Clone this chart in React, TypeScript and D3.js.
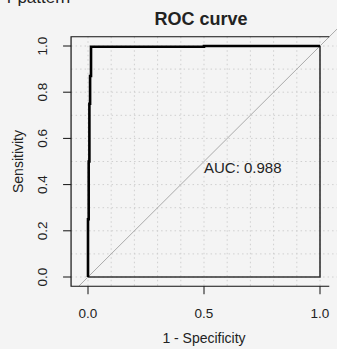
import * as d3 from "d3";

// ROC curve points (1 - specificity, sensitivity)
const fpr = [0, 0, 0.003, 0.003, 0.006, 0.006, 0.009, 0.009, 0.013, 0.013, 0.5, 0.5, 1];
const tpr = [0, 0.25, 0.25, 0.5, 0.5, 0.75, 0.75, 0.87, 0.87, 0.997, 0.997, 1, 1];
// closing segments drawn by the plot: down the right edge and back along zero
const closeX = [1, 1, 0];
const closeY = [1, 0, 0];

const gridTicks = [0, 0.1, 0.2, 0.3, 0.4, 0.5, 0.6, 0.7, 0.8, 0.9, 1];
const yTicks = [0, 0.2, 0.4, 0.6, 0.8, 1];
const xTicks = [0, 0.5, 1];
const aucLabel = "AUC: 0.988";

const W = 337;
const H = 349;
const font = "'Liberation Sans', Arial, sans-serif";
const ink = "#222";

export default function App() {
  const x = d3.scaleLinear().domain([0, 1]).range([88, 320]);
  const y = d3.scaleLinear().domain([0, 1]).range([277, 46]);

  const left = x(-0.073);
  const right = x(1.04);
  const top = y(1.04);
  const bottom = y(-0.04);

  const line = d3.line<[number, number]>().x((d) => x(d[0])).y((d) => y(d[1]));
  const curve = line(fpr.map((v, i) => [v, tpr[i]])) ?? "";
  const closing = line(closeX.map((v, i) => [v, closeY[i]])) ?? "";
  const diag = line([[-0.04, -0.04], [1.08, 1.08]]) ?? "";

  return (
    <div style={{ position: "fixed", left: 0, top: 0 }}>
      <svg width={W} height={H} style={{ display: "block" }} fontFamily={font}>
        <rect width={W} height={H} fill="#f4f4f4" />
        <defs>
          <clipPath id="clip">
            <rect x={0} y={28} width={W} height={bottom - 28} />
          </clipPath>
        </defs>
        <text x={7} y={3} fontSize={17} fill={ink}>r  pattern</text>
        <text x={201} y={25} textAnchor="middle" fontSize={18} fontWeight="bold" fill={ink}>ROC curve</text>

        {/* grid */}
        {gridTicks.map((t) => (
          <g key={t} stroke="#cfcfcf" strokeDasharray="1.5,3" strokeWidth={1}>
            <line x1={x(t)} x2={x(t)} y1={top} y2={bottom} />
            <line x1={left} x2={W} y1={y(t)} y2={y(t)} />
          </g>
        ))}

        <g clipPath="url(#clip)">
          <path d={diag} fill="none" stroke="#aaa" strokeWidth={1} />
        </g>

        <path d={closing} fill="none" stroke="#333" strokeWidth={1.6} />
        <path d={curve} fill="none" stroke="#000" strokeWidth={2.6} />

        {/* frame */}
        <path
          d={`M${right},${top}H${left}V${bottom}H${right}`}
          fill="none"
          stroke="#111"
          strokeWidth={1.2}
        />

        {yTicks.map((t) => (
          <g key={t}>
            <line x1={left - 8} x2={left} y1={y(t)} y2={y(t)} stroke="#111" />
            <text
              transform={`translate(47,${y(t)}) rotate(-90)`}
              textAnchor="middle"
              fontSize={13.5}
              fill={ink}
            >
              {t.toFixed(1)}
            </text>
          </g>
        ))}
        {xTicks.map((t) => (
          <g key={t}>
            <line x1={x(t)} x2={x(t)} y1={bottom} y2={bottom + 8} stroke="#111" />
            <text x={x(t)} y={318} textAnchor="middle" fontSize={13.5} fill={ink}>
              {t.toFixed(1)}
            </text>
          </g>
        ))}

        <text x={x(0.5)} y={343} textAnchor="middle" fontSize={14} fill={ink}>1 - Specificity</text>
        <text transform={`translate(23,${y(0.5)}) rotate(-90)`} textAnchor="middle" fontSize={14} fill={ink}>
          Sensitivity
        </text>

        <text x={x(0.5)} y={y(0.45)} fontSize={15} fill={ink}>{aucLabel}</text>
      </svg>
    </div>
  );
}
